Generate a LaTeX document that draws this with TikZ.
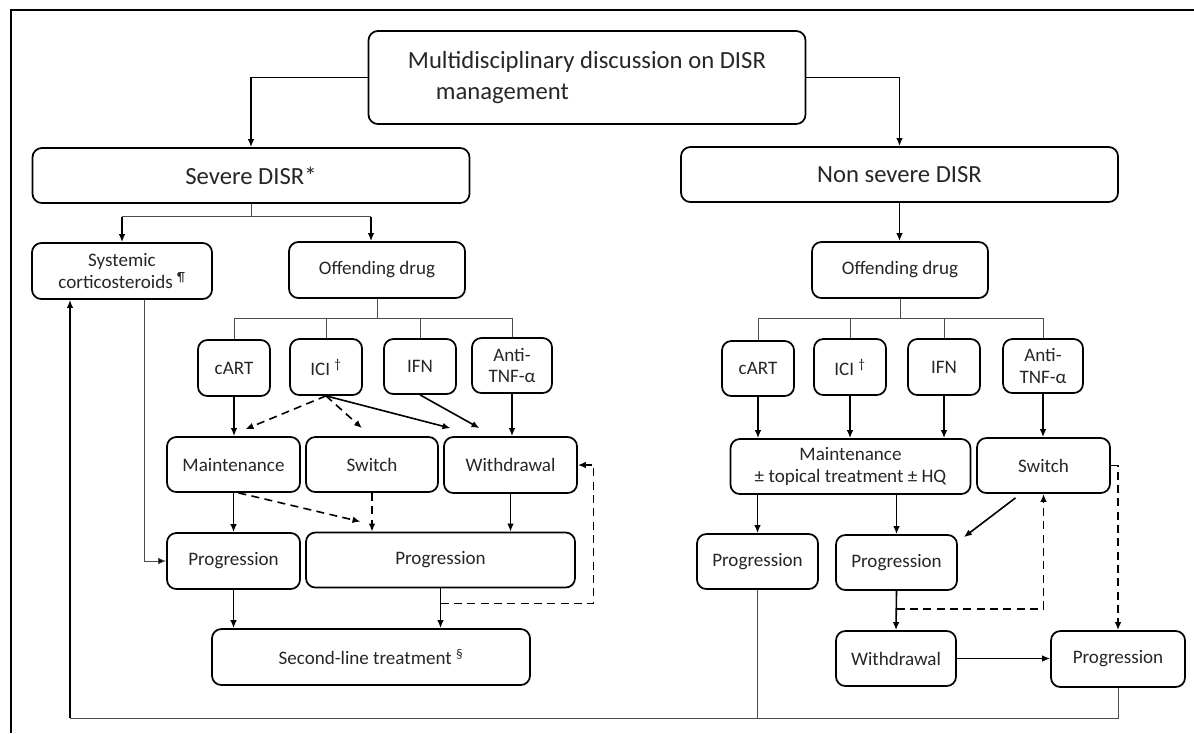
\documentclass[tikz,border=0pt]{standalone}
\usepackage{fontspec}
\setmainfont{Carlito}
\usepackage{tikz}
\usetikzlibrary{arrows.meta}
\usetikzlibrary{calc}

\tikzset{
  box/.style={draw, line width=1.3pt, rounded corners=7pt, align=center, inner sep=1pt, text=black!85},
  sz/.style 2 args={minimum width=#1*0.75pt, minimum height=#2*0.75pt},
  big/.style={font=\fontsize{18.5}{23}\selectfont},
  small/.style={font=\fontsize{14.3}{16.3}\selectfont},
  arr/.style={line width=1.2pt, -{Latex[length=6pt,width=5pt]}},
  dasharr/.style={arr, dash pattern=on 6pt off 4pt},
  thinln/.style={line width=0.6pt, draw=black!70},
  thinarr/.style={thinln, -{Latex[length=6pt,width=5pt,fill=black]}},
}

\begin{document}
\begin{tikzpicture}[x=0.75pt,y=0.75pt,yscale=-1,xscale=1]
\useasboundingbox (0,0) rectangle (1194,733);

%Frame
\draw [line width=2pt] (11,733) -- (11,10) -- (1194,10) ;

%Rounded Rect: top level
\node[box,big,align=left,sz={437}{93}] (top) at (587,77.5) {Multidisciplinary discussion on DISR\\\hspace*{21pt}management};
\node[box,big,sz={437}{55}] (severe) at (251,175.5) {Severe DISR*};
\node[box,big,sz={437}{55}] (nonsev) at (899.5,174.5) {Non severe DISR};

%Rounded Rect: severe side
\node[box,small,sz={180}{56}] (cortico) at (122,271) {Systemic\\corticosteroids \textsuperscript{¶}};
\node[box,small,sz={176}{56}] (offL) at (377,270) {Offending drug};
\node[box,small,sz={72}{56}] (cartL) at (234,368) {cART};
\node[box,small,sz={72}{56}] (iciL) at (326,367) {ICI \textsuperscript{†}};
\node[box,small,sz={72}{55}] (ifnL) at (420,366.5) {IFN};
\node[box,small,sz={80}{55}] (antiL) at (512,365.5) {Anti-\\TNF-α};
\node[box,small,sz={133}{55}] (maintL) at (233.5,464.5) {Maintenance};
\node[box,small,sz={132}{55}] (switchL) at (372,464.5) {Switch};
\node[box,small,sz={133}{56}] (withL) at (510.5,465) {Withdrawal};
\node[box,small,sz={133}{56}] (progL1) at (233.5,561) {Progression};
\node[box,small,sz={269}{55}] (progL2) at (440.5,560) {Progression};
\node[box,small,sz={318}{56}] (second) at (371,657) {Second-line treatment \textsuperscript{§}};

%Rounded Rect: non severe side
\node[box,small,sz={176}{56}] (offR) at (900,270) {Offending drug};
\node[box,small,sz={72}{55}] (cartR) at (758,368.5) {cART};
\node[box,small,sz={72}{56}] (iciR) at (850,367) {ICI \textsuperscript{†}};
\node[box,small,sz={72}{56}] (ifnR) at (944,367) {IFN};
\node[box,small,sz={80}{54}] (antiR) at (1043,366) {Anti-\\TNF-α};
\node[box,small,sz={240}{55}] (maintR) at (850.5,466.5) {Maintenance\\± topical treatment ± HQ};
\node[box,small,sz={133}{55}] (switchR) at (1043.5,465.5) {Switch};
\node[box,small,sz={121}{55}] (progR1) at (757.5,561.5) {Progression};
\node[box,small,sz={121}{55}] (progR2) at (896.5,562.5) {Progression};
\node[box,small,sz={120}{55}] (withR) at (896,658.5) {Withdrawal};
\node[box,small,sz={134}{56}] (progR3) at (1118,659) {Progression};

%Straight Lines: top split
\draw[arr] (top.west) -| (severe.north);
\draw[arr] (top.east) -| (nonsev.north);

%Straight Lines: severe split
\draw[thinln] (severe.south) -- ++(0,13) coordinate (svsplit);
\coordinate (offLin) at ([xshift=-4.5pt]offL.north);
\draw[thinln] (cortico.north |- svsplit) -- (offLin |- svsplit);
\draw[arr] (cortico.north |- svsplit) -- (cortico.north);
\draw[arr] (offLin |- svsplit) -- (offLin);
\draw[arr] (nonsev.south) -- (nonsev.south |- offR.north);

%Straight Lines: drug branches
\foreach \d in {cartL,iciL,ifnL,antiL}
  \draw[thinln] (offL.south) -- ++(0,20) -| (\d.north);
\foreach \d in {cartR,iciR,ifnR,antiR}
  \draw[thinln] (offR.south) -- ++(0,20) -| (\d.north);

%Straight Lines: severe side
\draw[arr] (cartL.south) -- (cartL.south |- maintL.north);
\draw[dasharr] (iciL.south) -- ($(maintL.north)+(12,-7)$);
\draw[dasharr] (iciL.south) -- ($(switchL.north)+(-10,-8)$);
\draw[arr] (iciL.south) -- ($(withL.north)+(-60,-8)$);
\draw[arr] (ifnL.south) -- ($(withL.north)+(-31,-8)$);
\draw[arr] (antiL.south) -- (antiL.south |- withL.north);
\draw[arr] (maintL.south) -- (maintL.south |- progL1.north);
\draw[dasharr] ($(maintL.south)+(5,0)$) -- ($(progL2.north)+(-80,-10)$);
\draw[dasharr] (switchL.south) -- (switchL.south |- progL2.north);
\draw[arr] (withL.south) -- (withL.south |- progL2.north);
\draw[thinarr] ([xshift=17pt]cortico.south) |- (progL1.west);
\draw[arr] (progL1.south) -- (progL1.south |- second.north);
\draw[arr] (progL2.south) -- (progL2.south |- second.north);
\draw[dasharr] ($(progL2.south)+(0,15)$) -- ++(153,0) |- (withL.east);

%Straight Lines: non severe side
\foreach \d in {cartR,iciR,ifnR}
  \draw[arr] (\d.south) -- (\d.south |- maintR.north);
\draw[arr] (antiR.south) -- (antiR.south |- switchR.north);
\draw[arr] (progR1.north |- maintR.south) -- (progR1.north);
\draw[arr] (progR2.north |- maintR.south) -- (progR2.north);
\draw[arr] ($(switchR.south)+(-28,4)$) -- ($(progR2.north east)+(6,3)$);
\draw[arr] (progR2.south) -- (withR.north);
\draw[dasharr] ($(progR2.south)+(0,18)$) -| (switchR.south);
\draw[dasharr] (switchR.east) -| (progR3.north);
\draw[arr] (withR.east) -- (withR.east -| progR3.west);

%Straight Lines: return to corticosteroids
\coordinate (back) at (70,718);
\draw[thinln] (progR3.south) |- (back);
\draw[thinln] (progR1.south) -- (progR1.south |- back);
\draw[arr] (back) -- (back |- cortico.south);

\end{tikzpicture}
\end{document}
